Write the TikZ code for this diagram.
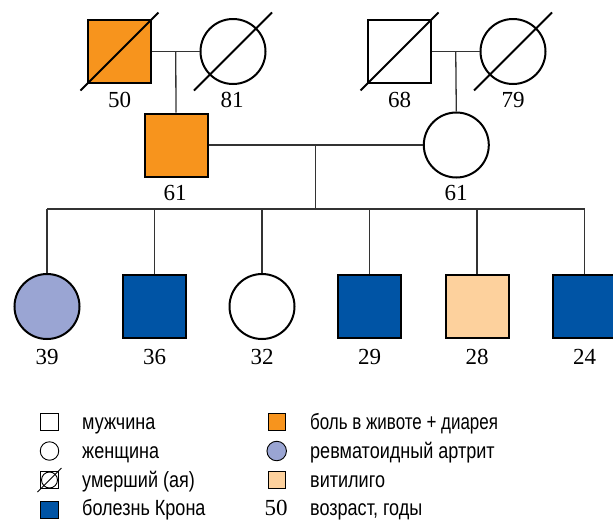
\documentclass[tikz,border=0pt]{standalone}
\usepackage{fontspec}
\usepackage{graphicx}
\usetikzlibrary{calc}
\setmainfont{Liberation Serif}
\newfontfamily\legendfont{Liberation Sans}[FakeStretch=0.82]
\definecolor{cOrange}{HTML}{F7941D}
\definecolor{cBlue}{HTML}{0054A5}
\definecolor{cLav}{HTML}{9AA5D3}
\definecolor{cPeach}{HTML}{FDD19D}
\definecolor{cLine}{HTML}{333333}
\begin{document}
\begin{tikzpicture}[x=1pt,y=-1pt,
  male/.style={draw=black,line width=2pt,rectangle,minimum size=63pt,inner sep=0pt,fill=white},
  female/.style={draw=black,line width=2pt,circle,minimum size=65pt,inner sep=0pt,fill=white},
  age/.style={font=\fontsize{23}{23}\selectfont,inner sep=0pt},
  link/.style={draw=cLine,line width=1.3pt},
  slash/.style={draw=black,line width=2pt},
  lmale/.style={draw=black,line width=0.9pt,rectangle,minimum size=17.5pt,inner sep=0pt,fill=white},
  lfemale/.style={draw=black,line width=0.9pt,circle,minimum size=18.5pt,inner sep=0pt,fill=white},
  ltext/.style={font=\legendfont\fontsize{22}{22}\selectfont,anchor=base west,inner sep=0pt}]
\useasboundingbox (0,0) rectangle (613,520);
% grandparents
\node[male,fill=cOrange] (gf1) at (119.5,51.5) {};
\node[female] (gm1) at (233,51.5) {};
\node[male] (gf2) at (399.5,51.5) {};
\node[female] (gm2) at (513,51.5) {};
% parents
\node[male,fill=cOrange] (fa) at (176,145) {};
\node[female] (mo) at (456.3,145) {};
% children
\node[female,fill=cLav] (c1) at (47,306.5) {};
\node[male,fill=cBlue] (c2) at (154.5,306) {};
\node[female] (c3) at (262,306.5) {};
\node[male,fill=cBlue] (c4) at (369.7,306) {};
\node[male,fill=cPeach] (c5) at (477,306) {};
\node[male,fill=cBlue] (c6) at (584.7,306) {};
% connectors
\coordinate (m1) at ($(gf1.east)!0.5!(gm1.west)$);
\coordinate (m2) at ($(gf2.east)!0.5!(gm2.west)$);
\coordinate (m3) at ($(fa.east)!0.5!(mo.west)$);
\coordinate (sib) at (m3 |- 0,209);
\draw[link] (gf1.east) -- (gm1.west);
\draw[link] (gf2.east) -- (gm2.west);
\draw[link] (m1) -- (fa.north);
\draw[link] (m2) -- (mo.north);
\draw[link] (fa.east) -- (mo.west);
\draw[link] (m3) -- (sib);
\draw[link] (c1.north |- sib) -- (c6.north |- sib);
\foreach \c in {c1,c2,c3,c4,c5,c6} \draw[link] (\c.north |- sib) -- (\c.north);
% slashes
\foreach \n in {gf1,gm1,gf2,gm2} \draw[slash] ($(\n)+(-39,39)$) -- ($(\n)+(39,-39)$);
% ages
\node[age] (a1) at (119.5,100) {50};
\node[age] (a2) at (232,100) {81};
\node[age] (a3) at (399.5,100) {68};
\node[age] (a4) at (513,100) {79};
\node[age] (a5) at (175,193) {61};
\node[age] (a6) at (456,193) {61};
\node[age] (a7) at (47,357) {39};
\node[age] (a8) at (154.5,357) {36};
\node[age] (a9) at (262,357) {32};
\node[age] (a10) at (369.7,357) {29};
\node[age] (a11) at (477,357) {28};
\node[age] (a12) at (584.7,357) {24};
% legend
\node[lmale] (l1) at (49.5,422) {};
\node[lfemale] (l2) at (49.5,451) {};
\node[lmale] (l3) at (49.5,480) {};
\draw[draw=black,line width=0.9pt] (l3.center) circle (8pt);
\draw[draw=black,line width=0.9pt] ($(l3)+(-12,12)$) -- ($(l3)+(12,-12)$);
\node[lmale,fill=cBlue] (l4) at (49.5,510) {};
\node[lmale,fill=cOrange] (r1) at (276.7,422) {};
\node[lfemale,fill=cLav,minimum size=19.5pt] (r2) at (276.7,451) {};
\node[lmale,fill=cPeach] (r3) at (276.7,480) {};
\node[age] (r4) at (276,508) {50};
\node[ltext] (t1) at (82,429.5) {мужчина};
\node[ltext] (t2) at (82,458.5) {женщина};
\node[ltext] (t3) at (82,487.5) {умерший (ая)};
\node[ltext] (t4) at (82,515) {болезнь Крона};
\node[ltext] (t5) at (310,429.5) {\scalebox{0.94}[1]{боль в животе + диарея}};
\node[ltext] (t6) at (310,458.5) {ревматоидный артрит};
\node[ltext] (t7) at (310,487.5) {витилиго};
\node[ltext] (t8) at (310,515) {возраст, годы};
\end{tikzpicture}
\end{document}
